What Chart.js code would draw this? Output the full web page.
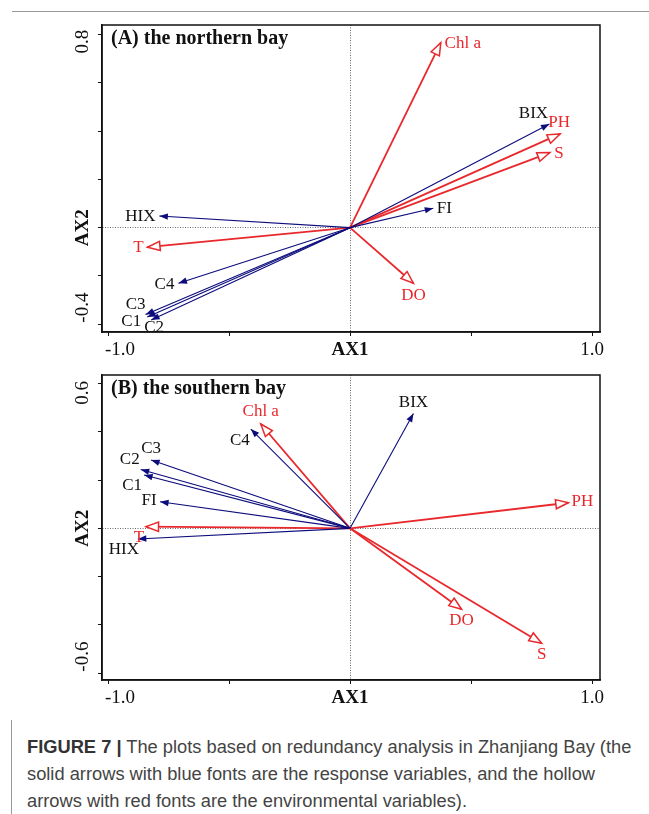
<!DOCTYPE html>
<html><head><meta charset="utf-8">
<script src="https://cdn.jsdelivr.net/npm/chart.js@4/dist/chart.umd.min.js"></script>
<style>
html,body{margin:0;padding:0;background:#fff;}
body{width:649px;height:814px;overflow:hidden;position:relative;}
#topRule{position:absolute;left:12px;top:11px;width:637px;height:0;border-top:1.5px solid #999;}
#capRule{position:absolute;left:11px;top:720px;width:0;height:94px;border-left:1.5px solid #999;}
canvas{position:absolute;left:0;}
#cA{top:0px;}
#cB{top:366px;}
#caption{position:absolute;left:27px;top:733px;font-family:"Liberation Sans",Arial,sans-serif;font-size:18.3px;line-height:27px;color:#444;white-space:nowrap;}
#caption b{color:#333;}
</style></head><body>
<div id="topRule"></div>
<canvas id="cA" width="649" height="366"></canvas>
<canvas id="cB" width="649" height="346"></canvas>
<div id="capRule"></div>
<div id="caption"><b>FIGURE 7 |</b> The plots based on redundancy analysis in Zhanjiang Bay (the<br>solid arrows with blue fonts are the response variables, and the hollow<br>arrows with red fonts are the environmental variables).</div>
<script>
// ---------- DATA ----------
const responseNames = ['BIX', 'FI', 'HIX', 'C1', 'C2', 'C3', 'C4'];
const envNames = ['Chl a', 'PH', 'S', 'T', 'DO'];

// (A) the northern bay
const northResponseAX1 = [0.824, 0.344, -0.788, -0.838, -0.822, -0.845, -0.709];
const northResponseAX2 = [0.429, 0.080, 0.048, -0.370, -0.382, -0.360, -0.230];
const northEnvAX1 = [0.375, 0.868, 0.826, -0.837, 0.262];
const northEnvAX2 = [0.766, 0.388, 0.311, -0.081, -0.230];

// (B) the southern bay
const southResponseAX1 = [0.262, -0.785, -0.877, -0.851, -0.865, -0.822, -0.410];
const southResponseAX2 = [0.476, 0.110, -0.044, 0.221, 0.244, 0.283, 0.411];
const southEnvAX1 = [-0.369, 0.902, 0.792, -0.843, 0.461];
const southEnvAX2 = [0.432, 0.106, -0.476, 0.007, -0.335];

// ticks
const xTickValues = [-1, -0.5, 0, 0.5, 1];
const xTickLabels = ['-1.0', '', 'AX1', '', '1.0'];
const northYTickValues = [-0.4, -0.2, 0, 0.2, 0.4, 0.6, 0.8];
const northYTickLabels = ['-0.4', '', 'AX2', '', '', '', '0.8'];
const southYTickValues = [-0.6, -0.4, -0.2, 0, 0.2, 0.4, 0.6];
const southYTickLabels = ['-0.6', '', '', 'AX2', '', '', '0.6'];

// ---------- STYLE ----------
const BLUE = '#0c0c7c';
const RED = '#e8282c';
const SERIF = '"Liberation Serif", "Times New Roman", serif';
const northLabelOffsets = {'Chl a':[22,1], BIX:[-16,-11], PH:[-1,-11], S:[9,1], FI:[11,0], HIX:[-19,0], T:[-9,0], C4:[-14,1], C3:[-10,-10], C1:[-16,5], C2:[3,8], DO:[0,12]};
const southLabelOffsets = {BIX:[0,-11], 'Chl a':[0,-12], C4:[-11,11], C3:[0,-11], C2:[-11,-10], C1:[-12,11], FI:[-11,-1], T:[-7,11], HIX:[-14,11], PH:[14,-1], DO:[0,11], S:[0,11]};
// label padding (spaces) to keep the extreme tick labels inside the axis span
const xLabelLead = {'-1.0': 5};
const yLabelPad = {'-0.4': [7,0], '0.8': [0,3], '-0.6': [7,0], '0.6': [0,4]};

function arrowDatasets(names, xs, ys, kind) {
  return names.map((n, i) => ({
    label: n, kind: kind,
    data: [{x: 0, y: 0}, {x: xs[i], y: ys[i]}],
    showLine: true, pointRadius: 0, pointHoverRadius: 0, pointHitRadius: 0,
    borderColor: kind === 'env' ? RED : BLUE,
    borderWidth: kind === 'env' ? 1.8 : 1.1,
    clip: false
  }));
}

const rdaPlugin = {
  id: 'rdaArrows',
  beforeDatasetsDraw(chart) {
    const {ctx, chartArea: a} = chart;
    ctx.save();
    ctx.strokeStyle = '#111';
    ctx.lineWidth = 1.5;
    ctx.strokeRect(a.left, a.top, a.right - a.left, a.bottom - a.top);
    ctx.restore();
  },
  afterDatasetsDraw(chart, args, opts) {
    const {ctx, chartArea: a} = chart;
    ctx.save();
    chart.data.datasets.forEach((ds, i) => {
      const meta = chart.getDatasetMeta(i);
      const p0 = meta.data[0], p1 = meta.data[1];
      const ang = Math.atan2(p1.y - p0.y, p1.x - p0.x);
      const env = ds.kind === 'env';
      const L = env ? 12.5 : 8.5, W = env ? 4.6 : 3.2;
      const bx = p1.x - L * Math.cos(ang), by = p1.y - L * Math.sin(ang);
      const nx = -Math.sin(ang), ny = Math.cos(ang);
      ctx.beginPath();
      ctx.moveTo(p1.x, p1.y);
      ctx.lineTo(bx + W * nx, by + W * ny);
      ctx.lineTo(bx - W * nx, by - W * ny);
      ctx.closePath();
      if (env) {
        ctx.fillStyle = '#fff'; ctx.fill();
        ctx.strokeStyle = RED; ctx.lineWidth = 1.5; ctx.lineJoin = 'miter'; ctx.stroke();
      } else {
        ctx.fillStyle = BLUE; ctx.fill();
      }
      const off = opts.offsets[ds.label] || [0, 0];
      ctx.font = '17px ' + SERIF;
      ctx.textAlign = 'center';
      ctx.textBaseline = 'middle';
      ctx.fillStyle = env ? RED : '#111';
      ctx.fillText(ds.label, p1.x + off[0], p1.y + off[1]);
    });
    ctx.font = 'bold 20px ' + SERIF;
    ctx.textAlign = 'left';
    ctx.textBaseline = 'alphabetic';
    ctx.fillStyle = '#111';
    ctx.fillText(opts.title, a.left + 9, a.top + 18.5);
    ctx.restore();
  }
};

function tickLabel(values, labels, v) {
  const i = values.findIndex(t => Math.abs(t - v) < 1e-9);
  return i < 0 ? '' : labels[i];
}

function makeChart(id, cfg) {
  const zeroGrid = c => (c.tick && Math.abs(c.tick.value) < 1e-9) ? '#6a6a6a' : 'rgba(0,0,0,0)';
  return new Chart(document.getElementById(id), {
    type: 'scatter',
    data: {datasets: arrowDatasets(responseNames, cfg.rx, cfg.ry, 'resp').concat(arrowDatasets(envNames, cfg.ex, cfg.ey, 'env'))},
    options: {
      responsive: false, animation: false, devicePixelRatio: 1,
      events: [],
      layout: {padding: {left: 0, right: 49, top: cfg.padTop, bottom: 0}},
      plugins: {legend: {display: false}, tooltip: {enabled: false}, title: {display: false},
        rdaArrows: {title: cfg.title, offsets: cfg.offsets}},
      scales: {
        x: {
          type: 'linear', bounds: 'data', min: -1.025, max: 1.033,
          afterBuildTicks: s => { s.ticks = xTickValues.map(v => ({value: v})); },
          afterFit: s => { s.height = cfg.xAxisH; },
          grid: {color: zeroGrid, lineWidth: 1, tickColor: '#111', tickLength: 4, drawTicks: true},
          border: {display: true, color: '#111', width: 1.5, dash: [1, 1.5]},
          ticks: {
            autoSkip: false, minRotation: 0, maxRotation: 0, padding: 3, color: '#111',
            font: c => ({family: SERIF, size: 19, weight: (c.tick && Math.abs(c.tick.value) < 1e-9) ? 'bold' : 'normal'}),
            callback: v => { const t = tickLabel(xTickValues, xTickLabels, v); return ' '.repeat(xLabelLead[t] || 0) + t; }
          }
        },
        y: {
          type: 'linear', bounds: 'data', min: cfg.ymin, max: cfg.ymax,
          afterBuildTicks: s => { s.ticks = cfg.yTicks.map(v => ({value: v})); },
          afterFit: s => { s.width = 102; },
          grid: {color: zeroGrid, lineWidth: 1, tickColor: '#111', tickLength: 4, drawTicks: true},
          border: {display: true, color: '#111', width: 1.5, dash: [1, 1.5]},
          ticks: {
            autoSkip: false, minRotation: 90, maxRotation: 90, crossAlign: 'center', padding: -16.7, color: '#111',
            font: c => ({family: SERIF, size: 19, weight: (c.tick && Math.abs(c.tick.value) < 1e-9) ? 'bold' : 'normal'}),
            callback: v => { const t = tickLabel(cfg.yTicks, cfg.yLabels, v); const p = yLabelPad[t] || [0, 0]; return ' '.repeat(p[0]) + t + ' '.repeat(p[1]); }
          }
        }
      }
    },
    plugins: [rdaPlugin]
  });
}

makeChart('cA', {
  rx: northResponseAX1, ry: northResponseAX2, ex: northEnvAX1, ey: northEnvAX2,
  title: '(A) the northern bay', offsets: northLabelOffsets,
  ymin: -0.432, ymax: 0.839, yTicks: northYTickValues, yLabels: northYTickLabels,
  padTop: 25, xAxisH: 34
});
makeChart('cB', {
  rx: southResponseAX1, ry: southResponseAX2, ex: southEnvAX1, ey: southEnvAX2,
  title: '(B) the southern bay', offsets: southLabelOffsets,
  ymin: -0.628, ymax: 0.635, yTicks: southYTickValues, yLabels: southYTickLabels,
  padTop: 9, xAxisH: 32
});
</script>
</body></html>
